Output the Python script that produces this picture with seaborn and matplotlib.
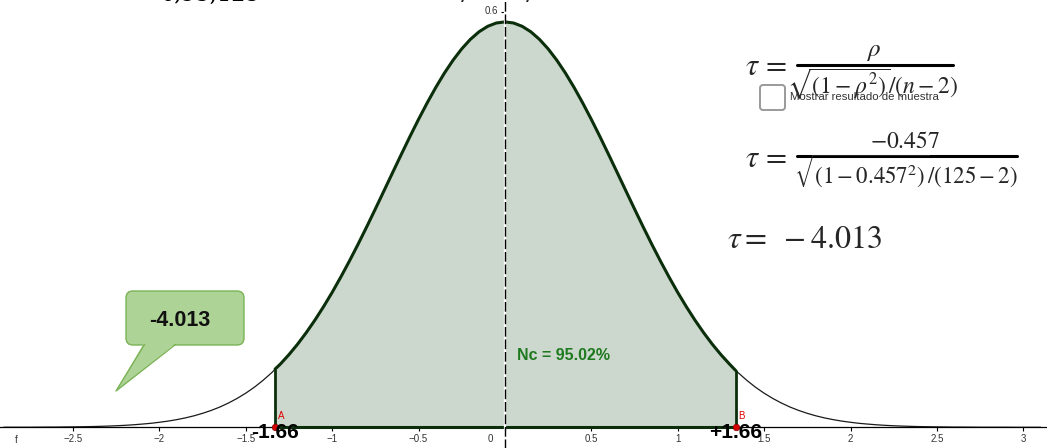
import numpy as np
import pandas as pd
import matplotlib
matplotlib.use("Agg")
import matplotlib.pyplot as plt
import matplotlib.transforms as mtransforms
from matplotlib.patches import FancyBboxPatch, Polygon
from matplotlib.lines import Line2D
import seaborn as sns

# ---------------- data ----------------
x_vals = np.round(np.arange(-2.90, 3.1001, 0.05), 2)
density = [
    0.0001, 0.0001, 0.0001, 0.0001, 0.0002, 0.0003, 0.0003, 0.0005, 0.0006, 0.0008,
    0.0010, 0.0013, 0.0017, 0.0022, 0.0028, 0.0036, 0.0046, 0.0057, 0.0072, 0.0089,
    0.0110, 0.0135, 0.0165, 0.0201, 0.0243, 0.0292, 0.0350, 0.0416, 0.0492, 0.0578,
    0.0677, 0.0787, 0.0911, 0.1048, 0.1199, 0.1365, 0.1545, 0.1739, 0.1946, 0.2167,
    0.2399, 0.2641, 0.2892, 0.3150, 0.3412, 0.3675, 0.3936, 0.4194, 0.4443, 0.4681,
    0.4905, 0.5112, 0.5298, 0.5461, 0.5598, 0.5707, 0.5786, 0.5834,
    0.5850,
    0.5834, 0.5786, 0.5707, 0.5598, 0.5461, 0.5298, 0.5112, 0.4905,
    0.4681, 0.4443, 0.4194, 0.3936, 0.3675, 0.3412, 0.3150, 0.2892, 0.2641, 0.2399,
    0.2167, 0.1946, 0.1739, 0.1545, 0.1365, 0.1199, 0.1048, 0.0911, 0.0787, 0.0677,
    0.0578, 0.0492, 0.0416, 0.0350, 0.0292, 0.0243, 0.0201, 0.0165, 0.0135, 0.0110,
    0.0089, 0.0072, 0.0057, 0.0046, 0.0036, 0.0028, 0.0022, 0.0017, 0.0013, 0.0010,
    0.0008, 0.0006, 0.0005, 0.0003, 0.0003, 0.0002, 0.0001, 0.0001, 0.0001, 0.0001,
    0.0000, 0.0000, 0.0000, 0.0000,
]

crit_x = [-1.33, 1.335]          # positions of points A and B
crit_heights = [0.084, 0.082]    # curve height at A and B
crit_labels = ["-1.66", "+1.66"]
point_names = ["A", "B"]

x_ticks = [-2.5, -2, -1.5, -1, -0.5, 0, 0.5, 1, 1.5, 2, 2.5, 3]
x_tick_labels = ["\u22122.5", "\u22122", "\u22121.5", "\u22121", "\u22120.5", "0",
                 "0.5", "1", "1.5", "2", "2.5", "3"]
y_ticks = [0.1, 0.2, 0.3, 0.4, 0.5, 0.6]
y_tick_labels = ["0.1", "0.2", "0.3", "0.4", "0.5", "0.6"]

nc_text = "Nc = 95.02%"
callout_text = "-4.013"
checkbox_text = "Mostrar resultado de muestra"

# ---------------- style ----------------
sns.set_theme(style="white")
plt.rcParams['font.family'] = ['Liberation Sans', 'DejaVu Sans']
plt.rcParams['mathtext.fontset'] = 'stix'

W, H = 1047, 448
fig = plt.figure(figsize=(W / 100, H / 100), dpi=100)
ax = fig.add_axes([0, 0, 1, 1])
ax.set_facecolor("white")
ax.set_xlim(-2.922, 3.137)
ax.set_ylim(-0.0299, 0.6166)

pix = mtransforms.Affine2D().scale(1, -1).translate(0, H)

df = pd.DataFrame({"x": x_vals, "density": density})

# shaded region
inner = df[(df["x"] > crit_x[0]) & (df["x"] < crit_x[1])]
xs = [crit_x[0]] + inner["x"].tolist() + [crit_x[1]]
ys = [crit_heights[0]] + inner["density"].tolist() + [crit_heights[1]]
shade = pd.DataFrame({"x": xs, "density": ys})

ax.fill_between(shade["x"], 0, shade["density"], color="#ccd8cd", lw=0, zorder=1)

# full thin curve
sns.lineplot(data=df, x="x", y="density", color="#1a1a1a", lw=0.9, ax=ax, zorder=2)
# thick green curve over the shaded interval
sns.lineplot(data=shade, x="x", y="density", color="#0b2e0b", lw=2.2, ax=ax, zorder=3)
ax.vlines(crit_x, 0, crit_heights, color="#0b2e0b", lw=2.0, zorder=3)
ax.hlines(0, crit_x[0], crit_x[1], color="#0b2e0b", lw=2.2, zorder=3)

# axes in GeoGebra style
for s in ["top", "right"]:
    ax.spines[s].set_visible(False)
ax.spines["left"].set_position(("data", 0))
ax.spines["bottom"].set_position(("data", 0))
ax.spines["bottom"].set_color("black")
ax.spines["bottom"].set_linewidth(0.9)
ax.spines["bottom"].set_zorder(2.5)
ax.spines["left"].set_color("black")
ax.spines["left"].set_linewidth(1.0)
ax.spines["left"].set_linestyle((0, (6, 3)))
ax.spines["left"].set_zorder(6)
ax.axvline(0, color="white", lw=1.6, zorder=5)

ax.set_xticks(x_ticks)
ax.set_xticklabels(x_tick_labels)
ax.set_yticks(y_ticks)
ax.set_yticklabels(y_tick_labels)
ax.tick_params(axis="both", which="both", direction="out", length=3, width=0.8,
               color="black", labelsize=7, labelcolor="#333333", pad=2,
               bottom=True, left=True)
ax.set_xlabel("")
ax.set_ylabel("")
for lbl in ax.get_xticklabels():
    if lbl.get_text() == "0":
        lbl.set_transform(lbl.get_transform() + mtransforms.Affine2D().translate(-15, 0))
for lbl in ax.get_yticklabels():
    if lbl.get_text() == "0.6":
        lbl.set_transform(lbl.get_transform() + mtransforms.Affine2D().translate(0, 1.5))

# points A, B
pts = pd.DataFrame({"x": crit_x, "y": [0, 0], "name": point_names})
sns.scatterplot(data=pts, x="x", y="y", color="#d40000", s=22, edgecolor="#8a0000",
                linewidth=0.5, ax=ax, zorder=8, legend=False)
for xv, nm in zip(crit_x, point_names):
    ax.annotate(nm, (xv, 0), xytext=(2, 6), textcoords="offset points",
                color="#e00000", fontsize=7, zorder=8)
for xv, lab in zip(crit_x, crit_labels):
    ax.annotate(lab, (xv, 0), xytext=(0, -4), textcoords="offset points",
                ha="center", va="center", fontsize=15, fontweight="bold",
                color="black", zorder=9)

# function label
fig.text(15, 440, "f", transform=pix, fontsize=7, color="#333333", va="center")

# Nc text
fig.text(517, 355, nc_text, transform=pix, fontsize=11.5, fontweight="bold",
         color="#1f7a1f", va="center", ha="left")

# callout
box = FancyBboxPatch((126, 291), 118, 54, boxstyle="round,pad=0,rounding_size=7",
                     transform=pix, fc="#aed397", ec="#7ab355", lw=1.0, zorder=10)
fig.add_artist(box)
tail = Polygon([(144, 343), (176, 343), (116, 391)], closed=True, transform=pix,
               fc="#aed397", ec="none", zorder=11)
fig.add_artist(tail)
fig.add_artist(Line2D([144.5, 116, 175.5], [344.5, 391, 344.5], transform=pix,
                      color="#7ab355", lw=1.0, zorder=12))
fig.text(180, 320, callout_text, transform=pix, fontsize=15.5, fontweight="bold",
         color="#111111", ha="center", va="center", zorder=13)

# formulas
fig.text(745, 75, r"$\tau\,=$", transform=pix, fontsize=22, va="baseline", ha="left")
fig.add_artist(Line2D([797, 953], [65, 65], transform=pix, color="black", lw=2.2))
fig.text(873, 56, r"$\rho$", transform=pix, fontsize=18, va="baseline", ha="center")
fig.text(873, 93, r"$\sqrt{(1-\rho^2)}/(n-2)$", transform=pix, fontsize=17,
         va="baseline", ha="center")

fig.text(745, 167, r"$\tau\,=$", transform=pix, fontsize=22, va="baseline", ha="left")
fig.add_artist(Line2D([797, 1017], [156, 156], transform=pix, color="black", lw=2.2))
fig.text(905, 148, r"$-0.457$", transform=pix, fontsize=17, va="baseline", ha="center")
fig.text(906, 184, r"$\sqrt{(1-0.457^2)}/(125-2)$", transform=pix, fontsize=16.5,
         va="baseline", ha="center")

fig.text(727, 248, r"$\tau=\ -4.013$", transform=pix, fontsize=23, va="baseline",
         ha="left")

# checkbox
cb = FancyBboxPatch((760, 85), 25, 25, boxstyle="round,pad=0,rounding_size=3",
                    transform=pix, fc="white", ec="#9a9a9a", lw=1.4, zorder=14)
fig.add_artist(cb)
fig.text(790, 97, checkbox_text, transform=pix, fontsize=8.2, color="#333333",
         va="center", ha="left", zorder=15)

# clipped header text at the very top
fig.text(160, 1, "0,95;125", transform=pix, fontsize=16, family="DejaVu Serif",
         va="baseline", ha="left", color="black")
fig.text(467, -3, r"$\rho$", transform=pix, fontsize=18, va="baseline", ha="center")
fig.text(532, -3, r"$\rho$", transform=pix, fontsize=18, va="baseline", ha="center")

fig.savefig("out.png", dpi=100, facecolor="white")
